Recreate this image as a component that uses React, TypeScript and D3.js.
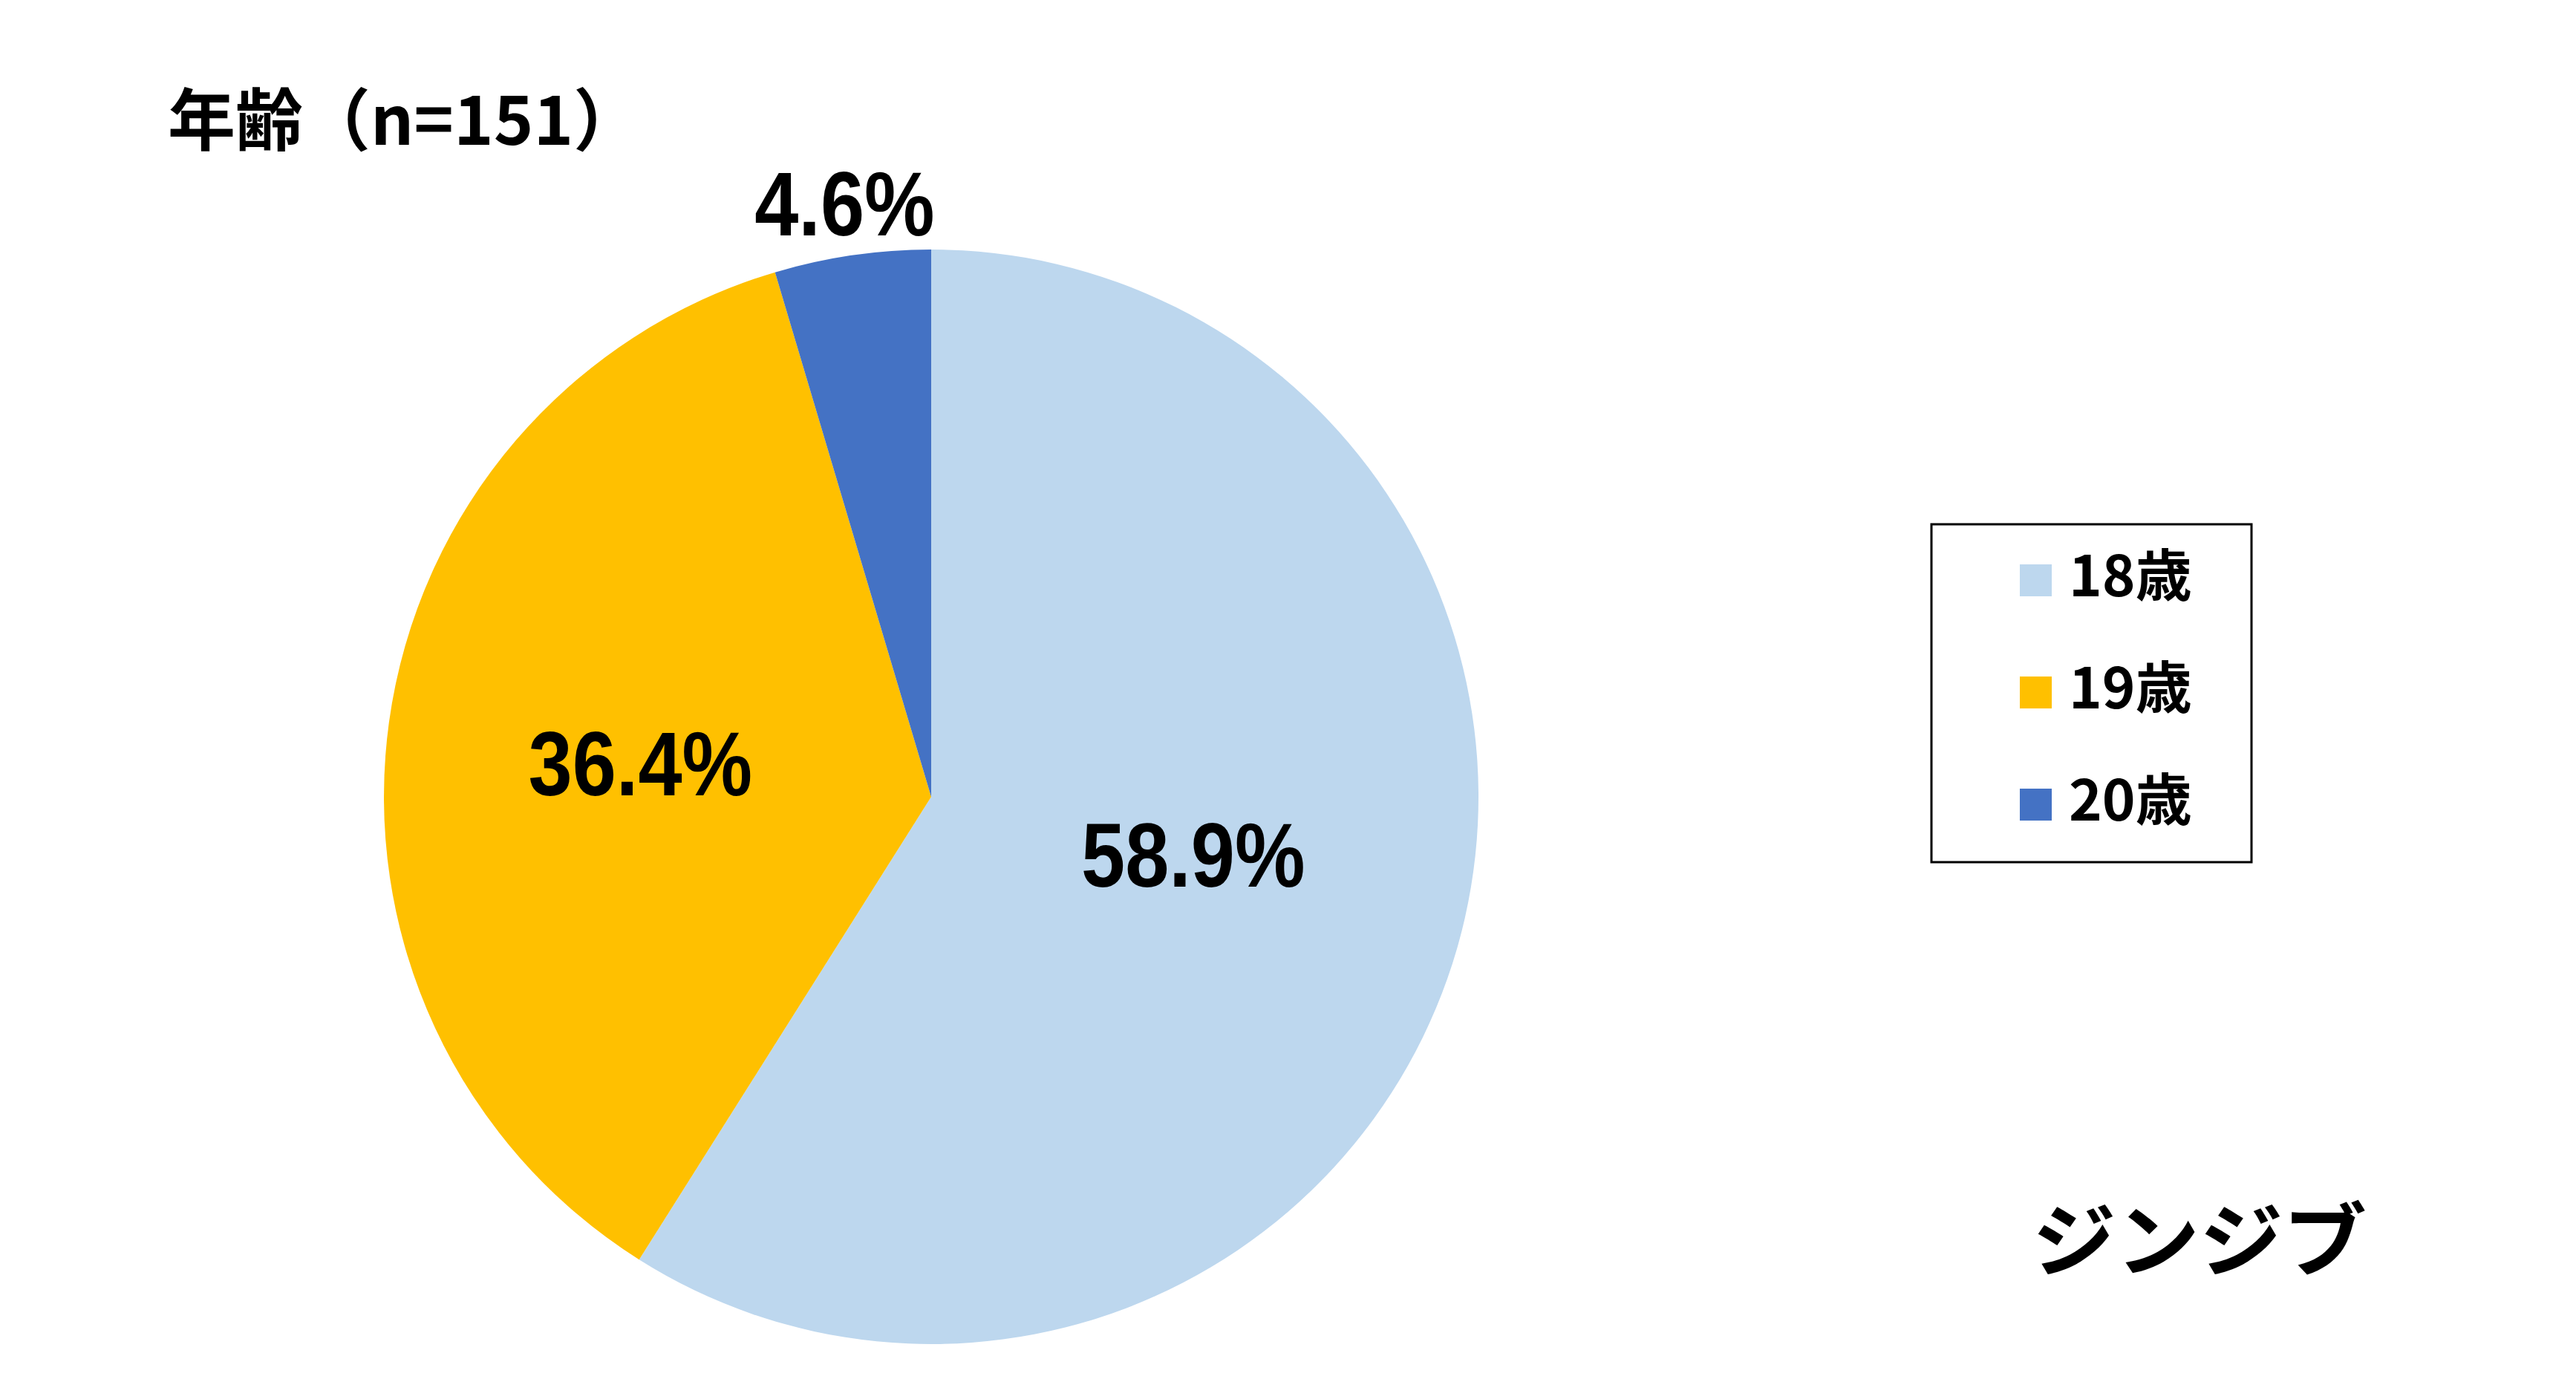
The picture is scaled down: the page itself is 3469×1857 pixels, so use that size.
import React from "react";
import * as d3 from "d3";

const categories = ["18歳", "19歳", "20歳"];
const values = [58.9, 36.4, 4.6];
const colors = ["#BDD7EE", "#FFC000", "#4472C4"];
const titleText = "年齢（n=151）";
const logoText = "ジンジブ";

// label layout (radius as fraction of pie radius, angle nudge in degrees)
const LABEL_RADIUS = [0.49, 0.535, 1.097];
const LABEL_NUDGE = [-3.8, -1.2, 0];

const W = 3469;
const H = 1857;
const FONT = "'Noto Sans CJK JP', 'Noto Sans', sans-serif";
const LABEL_FONT = "'Liberation Sans', Arial, sans-serif";

export default function App() {
  const cx = 1254;
  const cy = 1073;
  const r = 737;
  const data = categories.map((c, i) => ({ c, v: values[i], color: colors[i] }));
  const pie = d3.pie<any>().value((d) => d.v).sort(null);
  const arcs = pie(data);
  const arc = d3.arc<any>().innerRadius(0).outerRadius(r);

  const labelPos = (a: any, i: number) => {
    const mid = (a.startAngle + a.endAngle) / 2 + (LABEL_NUDGE[i] * Math.PI) / 180;
    const lr = r * LABEL_RADIUS[i];
    return [Math.sin(mid) * lr, -Math.cos(mid) * lr];
  };

  const legendX = 2601;
  const legendY = 706;
  const legendW = 431;
  const legendH = 455;
  const labelSize = 123;

  return (
    <svg
      width={W}
      height={H}
      style={{ position: "absolute", left: 0, top: 0, background: "#fff" }}
      fontFamily={FONT}
    >
      <rect x={0} y={0} width={W} height={H} fill="#fff" />
      <text x={226} y={195} fontSize={91} fontWeight={700} fill="#000">
        {titleText}
      </text>
      <g transform={`translate(${cx},${cy})`}>
        {arcs.map((a, i) => (
          <path key={i} d={arc(a) as string} fill={a.data.color} />
        ))}
        {arcs.map((a, i) => {
          const [x, y] = labelPos(a, i);
          return (
            <g key={"l" + i} transform={`translate(${x},${y}) scale(0.865,1)`}>
              <text
                x={0}
                y={labelSize * 0.358}
                textAnchor="middle"
                fontFamily={LABEL_FONT}
                fontSize={labelSize}
                fontWeight={700}
                fill="#000"
              >
                {a.data.v.toFixed(1) + "%"}
              </text>
            </g>
          );
        })}
      </g>
      <rect
        x={legendX}
        y={legendY}
        width={legendW}
        height={legendH}
        fill="#fff"
        stroke="#000"
        strokeWidth={3}
      />
      {data.map((d, i) => (
        <g key={"lg" + i} transform={`translate(2720,${803 + i * 151})`}>
          <rect x={0} y={-43} width={43} height={43} fill={d.color} />
          <text x={66} y={0} fontSize={76} fontWeight={700} fill="#000">
            {d.c}
          </text>
        </g>
      ))}
      <text
        x={2737}
        y={1710}
        fontSize={108}
        fontWeight={700}
        fill="#000"
        textLength={450}
        lengthAdjust="spacingAndGlyphs"
      >
        {logoText}
      </text>
    </svg>
  );
}
